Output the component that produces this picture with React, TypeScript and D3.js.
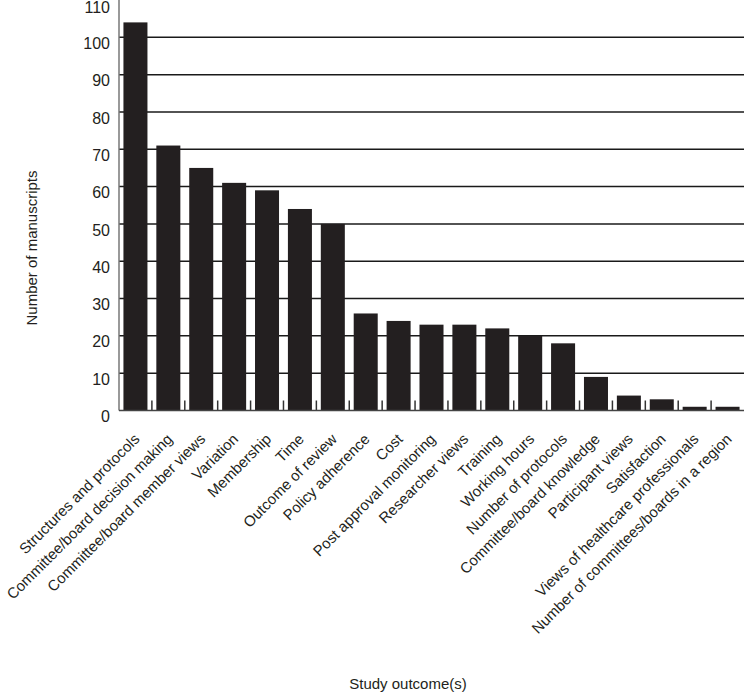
import React, { useRef, useEffect } from 'react';
import * as d3 from 'd3';

const categories = [
  'Structures and protocols',
  'Committee/board decision making',
  'Committee/board member views',
  'Variation',
  'Membership',
  'Time',
  'Outcome of review',
  'Policy adherence',
  'Cost',
  'Post approval monitoring',
  'Researcher views',
  'Training',
  'Working hours',
  'Number of protocols',
  'Committee/board knowledge',
  'Participant views',
  'Satisfaction',
  'Views of healthcare professionals',
  'Number of committees/boards in a region',
];
const manuscripts = [104, 71, 65, 61, 59, 54, 50, 26, 24, 23, 23, 22, 20, 18, 9, 4, 3, 1, 1];
const yTicks = [0, 10, 20, 30, 40, 50, 60, 70, 80, 90, 100, 110];

const App = () => {
  const svgRef = useRef(null);

  useEffect(() => {
    const svg = d3.select(svgRef.current);
    svg.selectAll('*').remove();

    const left = 119;
    const right = 744;
    const bottom = 410.5;
    const top = 0;
    const font = 'Arial, "Liberation Sans", sans-serif';

    const x = d3.scaleBand().domain(categories).range([left, right]).paddingInner(0.27).paddingOuter(0.135);
    const xb = d3.scaleBand().domain(categories).range([left, right]);
    const y = d3.scaleLinear().domain([0, 110]).range([bottom, top]);

    // gridlines
    svg.append('g')
      .selectAll('line')
      .data(yTicks.filter((t) => t > 0 && t < 110))
      .enter()
      .append('line')
      .attr('x1', left)
      .attr('x2', right)
      .attr('y1', (d) => y(d))
      .attr('y2', (d) => y(d))
      .attr('stroke', '#1a1a1a')
      .attr('stroke-width', 1.5);

    // bars
    svg.append('g')
      .selectAll('rect')
      .data(manuscripts)
      .enter()
      .append('rect')
      .attr('x', (d, i) => x(categories[i]))
      .attr('y', (d) => y(d))
      .attr('width', x.bandwidth())
      .attr('height', (d) => bottom - y(d))
      .attr('fill', '#231f20');

    // baseline ticks between bars
    svg.append('g')
      .selectAll('line')
      .data(categories.slice(1))
      .enter()
      .append('line')
      .attr('x1', (d) => xb(d))
      .attr('x2', (d) => xb(d))
      .attr('y1', bottom)
      .attr('y2', bottom - 10)
      .attr('stroke', '#333')
      .attr('stroke-width', 1.5);

    // axes lines
    svg.append('line')
      .attr('x1', left).attr('x2', left)
      .attr('y1', top).attr('y2', bottom)
      .attr('stroke', '#777').attr('stroke-width', 1.5);
    svg.append('line')
      .attr('x1', left).attr('x2', right)
      .attr('y1', bottom).attr('y2', bottom)
      .attr('stroke', '#444').attr('stroke-width', 1.5);

    // y tick labels
    svg.append('g')
      .selectAll('text')
      .data(yTicks)
      .enter()
      .append('text')
      .attr('x', 110)
      .attr('y', (d) => Math.max(y(d) + 6, 7.5))
      .attr('dy', '0.35em')
      .attr('text-anchor', 'end')
      .style('font-family', font)
      .style('font-size', '16px')
      .attr('fill', '#231f20')
      .text((d) => d);

    // x tick labels
    svg.append('g')
      .selectAll('text')
      .data(categories)
      .enter()
      .append('text')
      .attr('transform', (d) => `translate(${xb(d) + xb.bandwidth() / 2 + 5},440) rotate(-45)`)
      .attr('text-anchor', 'end')
      .style('font-family', font)
      .style('font-size', '15px')
      .attr('fill', '#231f20')
      .text((d) => d);

    // axis titles
    svg.append('text')
      .attr('transform', 'translate(37,248) rotate(-90)')
      .attr('text-anchor', 'middle')
      .style('font-family', font)
      .style('font-size', '15px')
      .attr('fill', '#231f20')
      .text('Number of manuscripts');

    svg.append('text')
      .attr('x', 408)
      .attr('y', 689)
      .attr('text-anchor', 'middle')
      .style('font-family', font)
      .style('font-size', '15px')
      .attr('fill', '#231f20')
      .text('Study outcome(s)');
  }, []);

  return (
    <div style={{ position: 'absolute', left: 0, top: 0 }}>
      <svg ref={svgRef} width={745} height={695} style={{ display: 'block', background: '#fff' }}></svg>
    </div>
  );
};

export default App;
